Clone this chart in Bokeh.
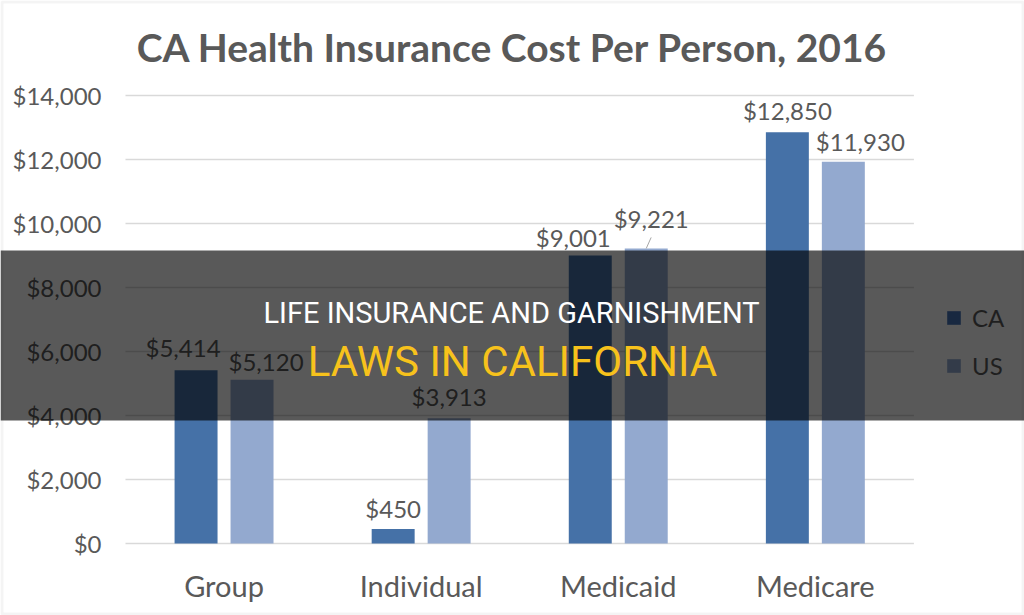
from bokeh.plotting import figure
from bokeh.models import (ColumnDataSource, Range1d, NumeralTickFormatter, FixedTicker,
                          LabelSet, Label, Legend, LegendItem, BoxAnnotation, LinearAxis)
from bokeh.core.properties import value
from bokeh.transform import dodge
from bokeh.embed import file_html
from bokeh.resources import INLINE

# ---- data ----
categories = ["Group", "Individual", "Medicaid", "Medicare"]
ca_values = [5414, 450, 9001, 12850]
us_values = [5120, 3913, 9221, 11930]
y_ticks = [0, 2000, 4000, 6000, 8000, 10000, 12000, 14000]
chart_title = "CA Health Insurance Cost Per Person, 2016"
banner_line1 = "LIFE INSURANCE AND GARNISHMENT"
banner_line2 = "LAWS IN CALIFORNIA"

# ---- layout / style constants ----
W, H = 1024, 615
PLOT_LEFT, PX_PER_CAT = 125, 197.1        # plot area left edge, pixels per category
Y0_PX, YTOP_PX, YMAX = 543, 95, 14000     # pixel rows of $0 and $14,000
PX_PER_USD = (Y0_PX - YTOP_PX) / YMAX
CA_COLOR = "#4571a7"
US_COLOR = "#93a9cf"
CA_DARK = "#182840"      # legend swatches sit under the dark banner
US_DARK = "#333b49"
TEXT_GREY = "#595959"
FONT = "Lato"
OFF = 0.142
BAR_W = 0.218
# hand-placed data-label offsets (pixels) as in the original chart
ca_xoff = [-13, 0, -17, 0]
ca_yoff = [23, 21, 18, 22]
us_xoff = [14, 0, 5, 17]
us_yoff = [18, 22, 30, 20]

n = len(categories)
xi = list(range(n))
ca_labels = [f"${v:,}" for v in ca_values]
us_labels = [f"${v:,}" for v in us_values]

src = ColumnDataSource(dict(xi=xi, ca=ca_values, us=us_values,
                            ca_lbl=ca_labels, us_lbl=us_labels,
                            ca_xoff=ca_xoff, ca_yoff=ca_yoff,
                            us_xoff=us_xoff, us_yoff=us_yoff))

x_start = -0.5 - PLOT_LEFT / PX_PER_CAT
x_end = x_start + W / PX_PER_CAT
y_start = -(H - Y0_PX) / PX_PER_USD
y_end = YMAX + YTOP_PX / PX_PER_USD

p = figure(x_range=Range1d(x_start, x_end), y_range=Range1d(y_start, y_end),
           width=W, height=H, output_backend="svg", toolbar_location=None,
           min_border=0, x_axis_location=None, y_axis_location=None)
p.title.visible = False
p.outline_line_color = None
p.background_fill_color = "white"
p.border_fill_color = "white"
p.xgrid.visible = False
p.ygrid.visible = False

# horizontal gridlines across the plot area
p.segment(x0=[-0.5] * len(y_ticks), x1=[n - 0.5] * len(y_ticks), y0=y_ticks, y1=y_ticks,
          line_color="#d9d9d9", line_width=1.5)

p.vbar(x=dodge("xi", -OFF), top="ca", width=BAR_W, source=src,
       fill_color=CA_COLOR, line_color=None)
p.vbar(x=dodge("xi", OFF), top="us", width=BAR_W, source=src,
       fill_color=US_COLOR, line_color=None)

# legend swatch renderers (zero-height; colours as seen through the banner)
leg_ca = p.vbar(x=[xi[0]], top=[0], width=BAR_W, fill_color=CA_DARK, line_color=None)
leg_us = p.vbar(x=[xi[0]], top=[0], width=BAR_W, fill_color=US_DARK, line_color=None)

# leader line for the displaced label
mi = categories.index("Medicaid")
lead = ColumnDataSource(dict(xi=[xi[mi]], y0=[us_values[mi] + 11 / PX_PER_USD], y1=[us_values[mi]]))
p.segment(x0=dodge("xi", OFF + 0.025), y0="y0", x1=dodge("xi", OFF), y1="y1",
          source=lead, line_color="#a6a6a6", line_width=1)

lbl_kw = dict(text_font=value(FONT), text_font_size=value("24px"), text_color=TEXT_GREY,
              text_align="center", text_baseline="middle")
p.add_layout(LabelSet(x=dodge("xi", -OFF), y="ca", text="ca_lbl",
                      x_offset="ca_xoff", y_offset="ca_yoff", source=src, **lbl_kw))
p.add_layout(LabelSet(x=dodge("xi", OFF), y="us", text="us_lbl",
                      x_offset="us_xoff", y_offset="us_yoff", source=src, **lbl_kw))

# axes (library axes, pinned to the plot-area edges)
yax = LinearAxis(ticker=FixedTicker(ticks=y_ticks), formatter=NumeralTickFormatter(format="$0,0"),
                 fixed_location=-0.5)
yax.axis_line_color = None
yax.major_tick_line_color = None
yax.minor_tick_line_color = None
yax.major_label_standoff = 18
yax.major_label_text_font = FONT
yax.major_label_text_font_size = "24px"
yax.major_label_text_color = TEXT_GREY
p.add_layout(yax, "left")

xax = LinearAxis(ticker=FixedTicker(ticks=xi), fixed_location=0,
                 major_label_overrides={i: c for i, c in zip(xi, categories)})
xax.axis_line_color = None
xax.major_tick_line_color = None
xax.minor_tick_line_color = None
xax.major_label_standoff = 18
xax.major_label_text_font = FONT
xax.major_label_text_font_size = "29px"
xax.major_label_text_color = TEXT_GREY
p.add_layout(xax, "below")

# legend
legend = Legend(items=[LegendItem(label="CA", renderers=[leg_ca]),
                       LegendItem(label="US", renderers=[leg_us])],
                location=(945, 235), orientation="vertical",
                glyph_width=17, glyph_height=17, label_standoff=10,
                label_text_font=FONT, label_text_font_size="24px",
                label_text_color="#1f1f1f", spacing=19, padding=0, margin=0,
                border_line_color=None, background_fill_alpha=0)
p.add_layout(legend)

# title
p.add_layout(Label(x=512, y=46, x_units="canvas", y_units="canvas", text=chart_title,
                   text_font=FONT, text_font_style="bold", text_font_size="39px",
                   text_color=TEXT_GREY, text_align="center", text_baseline="middle"))

# image frame border
p.add_layout(BoxAnnotation(left=1.5, right=W - 1.5, top=1.5, bottom=H - 1.5, left_units="canvas",
                           right_units="canvas", top_units="canvas", bottom_units="canvas",
                           fill_alpha=0, line_color="#dcdcdc", line_width=3,
                           level="annotation"))

# dark banner
p.add_layout(BoxAnnotation(left=0, right=W, top=250, bottom=420, left_units="canvas",
                           right_units="canvas", top_units="canvas", bottom_units="canvas",
                           fill_color="black", fill_alpha=0.65, line_color=None,
                           level="overlay"))
p.add_layout(Label(x=511, y=312.5, x_units="canvas", y_units="canvas", text=banner_line1,
                   text_font="Roboto", text_font_size="29px", text_color="white",
                   text_align="center", text_baseline="middle", level="overlay"))
p.add_layout(Label(x=512, y=360.5, x_units="canvas", y_units="canvas", text=banner_line2,
                   text_font="Roboto", text_font_size="42px", text_color="#f7c21c",
                   text_align="center", text_baseline="middle", level="overlay"))

open("out.html", "w").write(file_html(p, INLINE))
